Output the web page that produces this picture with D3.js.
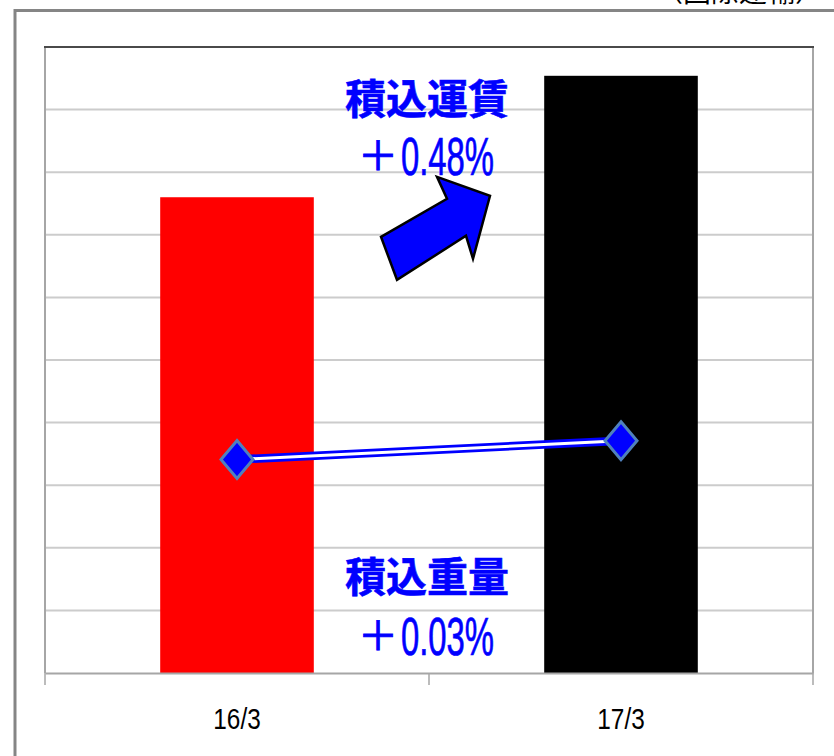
<!DOCTYPE html>
<html>
<head>
<meta charset="utf-8">
<script src="https://cdn.jsdelivr.net/npm/d3@7/dist/d3.min.js"></script>
<style>
  html, body { margin: 0; padding: 0; background: #ffffff; }
  svg { display: block; }
</style>
</head>
<body>
<script>
// Fiscal-year periods on the category axis
const categories = ["16/3", "17/3"];
// Loaded freight charges (bars), relative units
const freightValues = [7.60, 9.54];
// Loaded weight (line), relative units
const weightValues = [3.41, 3.71];
const barColors = ["#ff0000", "#000000"];
// Horizontal gridline levels
const gridLevels = [0, 1, 2, 3, 4, 5, 6, 7, 8, 9, 10];
// Annotation texts
const freightLabel = "積込運賃";
const freightChange = "0.48%";
const weightLabel = "積込重量";
const weightChange = "0.03%";
const sectionNote = "（国際運輸）";

const W = 834, H = 756;
const plot = { left: 45, right: 813, top: 47, bottom: 673 };

const svg = d3.select("body").append("svg")
  .attr("width", W).attr("height", H);

const x = d3.scaleBand()
  .domain(categories)
  .range([plot.left, plot.right])
  .paddingInner(0.6)
  .paddingOuter(0.3);

const xBand = d3.scaleBand()
  .domain(categories)
  .range([plot.left, plot.right]);

const y = d3.scaleLinear()
  .domain([0, 10])
  .range([plot.bottom, plot.top]);

// Outer frame (extends past the visible page on right and bottom)
svg.append("path")
  .attr("d", `M15,${H + 10} L15,10.5 L${W + 10},10.5`)
  .attr("fill", "none")
  .attr("stroke", "#858585")
  .attr("stroke-width", 3);

// Section note, mostly above the page top
svg.append("text")
  .attr("x", 823)
  .attr("y", 2)
  .attr("text-anchor", "end")
  .attr("font-family", "Noto Sans CJK JP")
  .attr("font-size", 28)
  .attr("fill", "#000")
  .text(sectionNote);

// Gridlines
svg.append("g")
  .selectAll("line")
  .data(gridLevels.filter(d => d > 0 && d < 10))
  .join("line")
  .attr("x1", plot.left).attr("x2", plot.right)
  .attr("y1", d => y(d)).attr("y2", d => y(d))
  .attr("stroke", "#cccccc")
  .attr("stroke-width", 2);

// Plot frame: left and right sides, darker top edge
svg.append("line")
  .attr("x1", plot.left).attr("x2", plot.left)
  .attr("y1", y(10)).attr("y2", y(0))
  .attr("stroke", "#a6a6a6").attr("stroke-width", 2);
svg.append("line")
  .attr("x1", plot.right).attr("x2", plot.right)
  .attr("y1", y(10)).attr("y2", y(0))
  .attr("stroke", "#a6a6a6").attr("stroke-width", 2);
svg.append("line")
  .attr("x1", plot.left - 1).attr("x2", plot.right + 1)
  .attr("y1", y(10)).attr("y2", y(10))
  .attr("stroke", "#4a4a4a").attr("stroke-width", 2);

// Bars
svg.append("g")
  .selectAll("rect")
  .data(categories)
  .join("rect")
  .attr("x", d => x(d))
  .attr("width", x.bandwidth())
  .attr("y", (d, i) => y(freightValues[i]))
  .attr("height", (d, i) => y(0) - y(freightValues[i]))
  .attr("fill", (d, i) => barColors[i]);

// Category axis: line, ticks at band boundaries, labels at centers
const axisG = svg.append("g")
  .attr("transform", `translate(0,${y(0)})`)
  .call(d3.axisBottom(xBand).tickSize(0).tickPadding(35));
axisG.select(".domain")
  .attr("stroke", "#a6a6a6")
  .attr("stroke-width", 2);
axisG.selectAll(".tick text")
  .attr("font-family", "Liberation Sans, Arial, sans-serif")
  .attr("font-size", 29)
  .attr("transform", "scale(0.84,1)")
  .attr("fill", "#000");
const boundaries = categories.map(d => xBand(d)).concat([xBand.range()[1]]);
axisG.selectAll("line.bound")
  .data(boundaries)
  .join("line")
  .attr("class", "bound")
  .attr("x1", d => d).attr("x2", d => d)
  .attr("y1", 0).attr("y2", 12)
  .attr("stroke", "#a6a6a6")
  .attr("stroke-width", 1.5);

// Weight line: blue double stroke
const lineGen = d3.line()
  .x((d, i) => xBand(categories[i]) + xBand.bandwidth() / 2)
  .y(d => y(d));
svg.append("path")
  .datum(weightValues)
  .attr("d", lineGen)
  .attr("fill", "none")
  .attr("stroke", "#0000ff")
  .attr("stroke-width", 8.5);
svg.append("path")
  .datum(weightValues)
  .attr("d", lineGen)
  .attr("fill", "none")
  .attr("stroke", "#ffffff")
  .attr("stroke-width", 3);

// Diamond markers
const diamond = "M0,-19 L16,0 L0,19 L-16,0 Z";
svg.append("g")
  .selectAll("path")
  .data(weightValues)
  .join("path")
  .attr("transform", (d, i) =>
    `translate(${xBand(categories[i]) + xBand.bandwidth() / 2},${y(d)})`)
  .attr("d", diamond)
  .attr("fill", "#0000ff")
  .attr("stroke", "#4f81bd")
  .attr("stroke-width", 3);

// Annotations centred on the boundary between the two periods
const midX = xBand(categories[1]);

function titleText(label, level) {
  svg.append("text")
    .attr("x", midX - 2)
    .attr("y", y(level))
    .attr("text-anchor", "middle")
    .attr("dominant-baseline", "central")
    .attr("font-family", "Noto Sans CJK JP")
    .attr("font-weight", "bold")
    .attr("font-size", 41)
    .attr("fill", "#0000ff")
    .attr("stroke", "#0000ff")
    .attr("stroke-width", 0.6)
    .text(label);
}

// "+" sign plus a tall, condensed percentage figure
function changeText(value, level) {
  const base = y(level);
  svg.append("text")
    .attr("x", midX - 51)
    .attr("y", base - 22)
    .attr("text-anchor", "middle")
    .attr("dominant-baseline", "central")
    .attr("font-family", "Noto Sans CJK JP")
    .attr("font-size", 40)
    .attr("fill", "#0000ff")
    .attr("stroke", "#0000ff")
    .attr("stroke-width", 0.9)
    .text("＋");
  svg.append("g")
    .attr("transform", `translate(${midX + 18.5},${base}) scale(0.62,1)`)
    .append("text")
    .attr("text-anchor", "middle")
    .attr("font-family", "Liberation Sans, Arial, sans-serif")
    .attr("font-size", 53)
    .attr("fill", "#0000ff")
    .attr("stroke", "#0000ff")
    .attr("stroke-width", 0.7)
    .text(value);
}

titleText(freightLabel, 9.22);
changeText(freightChange, 7.95);
titleText(weightLabel, 1.58);
changeText(weightChange, 0.29);

// Block arrow pointing up-right, anchored below the freight annotation
const arrowAnchor = [midX, y(7.0)];
const arrowShape = [
  [-48, 2], [18, -36], [8, -58], [61, -39], [44, 24], [37, 1], [-32, 45]
];
svg.append("polygon")
  .attr("points", arrowShape
    .map(p => [arrowAnchor[0] + p[0], arrowAnchor[1] + p[1]].join(","))
    .join(" "))
  .attr("fill", "#0000ff")
  .attr("stroke", "#000000")
  .attr("stroke-width", 2.5)
  .attr("stroke-linejoin", "miter");
</script>
</body>
</html>
